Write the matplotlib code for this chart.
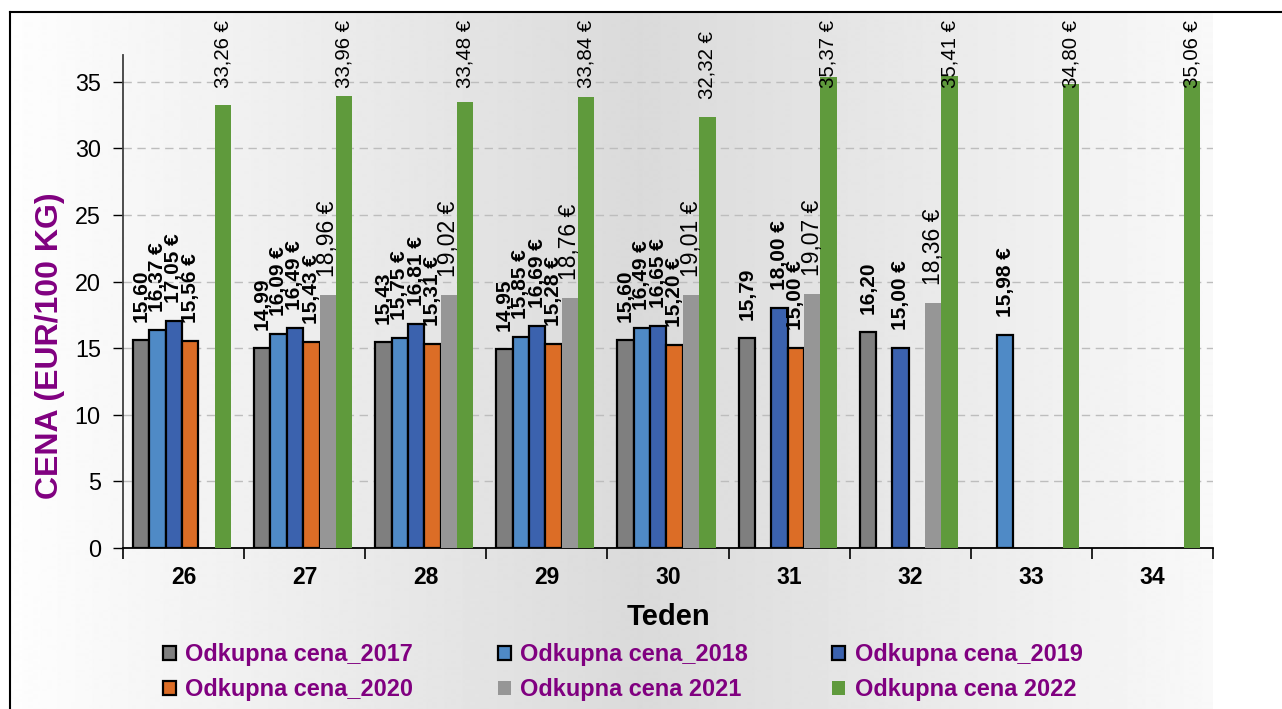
import numpy as np
import matplotlib
matplotlib.use('Agg')
import matplotlib.pyplot as plt
from matplotlib.patches import Patch
from matplotlib.lines import Line2D

plt.rcParams['font.family'] = ['Liberation Sans', 'DejaVu Sans']

# Tedni in odkupne cene (EUR/100 kg), nan = ni podatka
weeks = ['26', '27', '28', '29', '30', '31', '32', '33', '34']
nan = np.nan
cena_2017 = [15.60, 14.99, 15.43, 14.95, 15.60, 15.79, 16.20, nan, nan]
cena_2018 = [16.37, 16.09, 15.75, 15.85, 16.49, nan, nan, 15.98, nan]
cena_2019 = [17.05, 16.49, 16.81, 16.69, 16.65, 18.00, 15.00, nan, nan]
cena_2020 = [15.56, 15.43, 15.31, 15.28, 15.20, 15.00, nan, nan, nan]
cena_2021 = [nan, 18.96, 19.02, 18.76, 19.01, 19.07, 18.36, nan, nan]
cena_2022 = [33.26, 33.96, 33.48, 33.84, 32.32, 35.37, 35.41, 34.80, 35.06]

series = [cena_2017, cena_2018, cena_2019, cena_2020, cena_2021, cena_2022]
names = ['Odkupna cena_2017', 'Odkupna cena_2018', 'Odkupna cena_2019',
         'Odkupna cena_2020', 'Odkupna cena 2021', 'Odkupna cena 2022']
colors = ['#7f7f7f', '#4f8ac6', '#3b62ae', '#dc6d26', '#969696', '#5f9a3c']
edged = [True, True, True, True, False, False]
# label style: (bold, fontsize, euro sign)
label_style = [(True, 15, False), (True, 15, True), (True, 15, True),
               (True, 15, True), (False, 16.5, True), (False, 14.7, True)]
PURPLE = '#800080'

W, H = 1282, 709
fig = plt.figure(figsize=(W / 100, H / 100), dpi=100)
fig.patch.set_facecolor('white')

# background gradient of the chart area
bg = fig.add_axes([0, 0, 1, 1], zorder=-10)
bg.set_xlim(0, 1)
bg.set_ylim(0, 1)
bg.axis('off')
px = np.arange(10, 1214)
shade = np.interp(px, [10, 640, 1213], [0.995, 0.855, 0.975])
bg.imshow(shade[np.newaxis, :], cmap='gray', vmin=0, vmax=1, aspect='auto',
          extent=(10 / W, 1213 / W, 0, 1 - 12 / H), interpolation='bilinear')
fig.add_artist(Line2D([10 / W, 10 / W], [0, 1 - 12 / H], color='black', lw=1.5))
fig.add_artist(Line2D([10 / W, 1], [1 - 12 / H, 1 - 12 / H], color='black', lw=1.5))

ax = fig.add_axes([123 / W, 1 - 548 / H, (1213 - 123) / W, (548 - 55) / H])
ax.set_facecolor('none')

x = np.arange(len(weeks))
bw = 0.135
for k, vals in enumerate(series):
    pos = x - 0.35 + bw * k
    ax.bar(pos, vals, width=bw, color=colors[k],
           edgecolor='black' if edged[k] else 'none',
           linewidth=1.6 if edged[k] else 0, zorder=3)
    bold, fs, euro = label_style[k]
    for xi, v in zip(pos, vals):
        if np.isnan(v):
            continue
        txt = f"{v:.2f}".replace('.', ',') + (' €' if euro else '')
        y = min(v + 1.35, 34.55)
        ax.text(xi, y, txt, rotation=90, ha='center', va='bottom',
                fontsize=fs, fontweight='bold' if bold else 'normal',
                color='black', zorder=5)

ax.set_xlim(-0.5, len(weeks) - 0.5)
ax.set_ylim(0, 37)
ax.set_yticks(np.arange(0, 36, 5))
ax.yaxis.grid(True, linestyle=(0, (6, 4)), color='#bdbdbd', linewidth=1)
ax.set_axisbelow(True)

ax.set_xticks(x)
ax.set_xticklabels(weeks, fontweight='bold')
ax.set_xticks(np.arange(-0.5, len(weeks), 1), minor=True)
ax.tick_params(axis='x', which='major', length=0, pad=13, labelsize=16.5)
ax.tick_params(axis='x', which='minor', length=8, width=1.2, direction='out')
ax.tick_params(axis='y', length=7, width=1, direction='out', pad=9, labelsize=16.8)

for s in ['top', 'right']:
    ax.spines[s].set_visible(False)
ax.spines['left'].set_color('#404040')
ax.spines['left'].set_linewidth(1.3)
ax.spines['bottom'].set_color('black')
ax.spines['bottom'].set_linewidth(1.3)

ax.set_xlabel('Teden', fontsize=21, fontweight='bold', labelpad=10)
ax.set_ylabel('CENA (EUR/100 KG)', fontsize=23, fontweight='bold', color=PURPLE)
ax.yaxis.set_label_coords(-0.053, 0.41)

handles = [Patch(facecolor=c, edgecolor='black' if e else 'none',
                 linewidth=1.6 if e else 0)
           for c, e in zip(colors, edged)]
order = [0, 3, 1, 4, 2, 5]
leg = fig.legend([handles[i] for i in order], [names[i] for i in order],
                 ncol=3, loc='upper left', bbox_to_anchor=(163 / W, 1 - 643 / H),
                 frameon=False, prop={'size': 16.9, 'weight': 'bold'},
                 labelcolor=PURPLE, handlelength=0.55, handleheight=0.55,
                 handletextpad=0.4, columnspacing=3.6, labelspacing=0.52,
                 borderpad=0, borderaxespad=0)

fig.savefig('out.png', dpi=100)
